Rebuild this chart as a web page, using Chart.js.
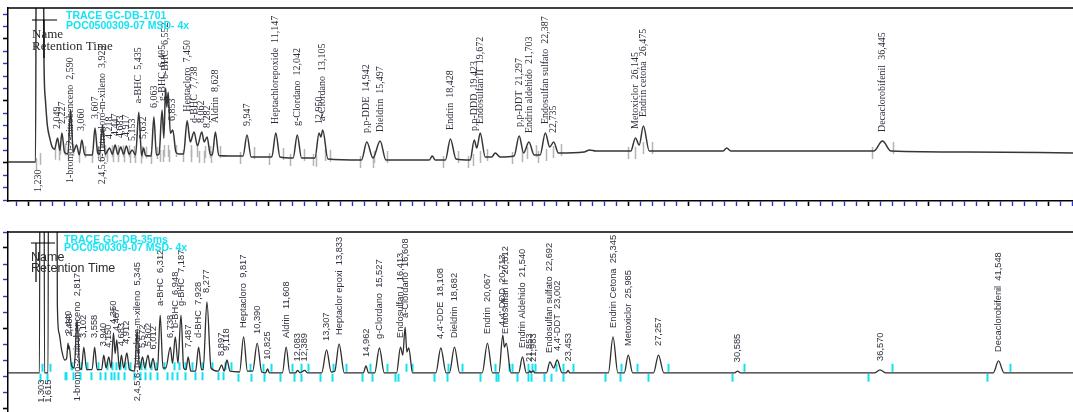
<!DOCTYPE html>
<html><head><meta charset="utf-8">
<script src="https://cdn.jsdelivr.net/npm/chart.js@4.4.1/dist/chart.umd.min.js"></script>
<style>
html,body{margin:0;padding:0;background:#fff;overflow:hidden;width:1073px;height:412px;}
#top{position:absolute;left:0;top:0;}
#bot{position:absolute;left:0;top:225px;}
</style></head>
<body>
<canvas id="top" width="1073" height="215"></canvas>
<canvas id="bot" width="1073" height="230"></canvas>
<script>
// ================= TOP CHROMATOGRAM : TRACE GC-DB-1701 =================
const topTitle = ['TRACE GC-DB-1701', 'POC0500309-07 MSD- 4x'];
// trace: retention time (min) / detector signal (arbitrary units)
const topTraceTime = [-0.02,1.13,1.17,1.42,1.48,1.54,1.62,1.72,1.82,1.92,2.049,2.14,2.227,2.34,2.48,2.590,2.70,2.84,2.95,3.060,3.18,3.50,3.607,3.72,3.80,3.923,4.03,4.218,4.33,4.447,4.56,4.683,4.80,4.917,5.03,5.153,5.30,5.435,5.55,5.632,5.72,5.95,6.063,6.17,6.28,6.405,6.48,6.552,6.60,6.660,6.75,6.853,6.98,7.10,7.30,7.450,7.58,7.738,7.88,8.062,8.16,8.282,8.42,8.50,8.628,8.77,9.20,9.78,9.947,10.12,10.98,11.147,11.32,11.87,12.042,12.22,12.78,12.95,13.03,13.105,13.32,14.72,14.942,15.20,15.497,15.74,17.55,17.67,17.80,18.22,18.428,18.66,19.25,19.423,19.53,19.672,19.88,20.15,20.30,20.50,21.08,21.297,21.48,21.703,21.92,22.17,22.387,22.57,22.735,22.93,24.00,24.23,24.50,25.95,26.145,26.30,26.475,26.72,29.80,29.95,30.12,36.08,36.445,36.80,40.0,44.4];
const topTraceSignal = [0.8,0.8,300,300,83,51,30.6,20.2,13,11,20.2,10,24.2,8.5,7.3,42.7,8.9,14.5,6.5,18.5,6.5,6.5,28.2,8,7,30.6,7,12.1,7,14.5,7,12.9,7,13.7,7,10.5,6.5,41,6,12.1,6,5.6,37,6.5,7.3,42.7,20,60.5,45,57,24,26.6,8.9,7.3,7.3,34,17,25,14,25,17,21,6.5,6.5,25,6,5.6,5.6,22.6,4.8,4.8,24.2,4.8,4.0,22.6,4.0,4.0,24.2,21,26.6,3.2,2.4,16.9,4.0,17.7,2.4,2.4,5.6,2.4,2.4,19.4,3.2,2.4,18.5,12.1,24.2,4.8,4.8,8.1,4.8,5.6,21.8,8.1,16.9,6.5,6.5,24.2,12.9,16.9,8.1,8.9,10.5,9.7,9.7,20.2,14.5,29.8,9.7,9.7,12.1,9.7,9.7,17.7,9.7,8.9,8.1];
// identified peaks
const topPeakRT = [1.230,2.049,2.227,2.590,3.060,3.607,3.923,4.218,4.447,4.683,4.917,5.153,5.435,5.632,6.063,6.405,6.552,6.853,7.450,7.738,8.062,8.282,8.628,9.947,11.147,12.042,12.950,13.105,14.942,15.497,18.428,19.423,19.672,21.297,21.703,22.387,22.735,26.145,26.475,36.445];
const topPeakName = ['','','','1-bromo-2-nitrobenceno','','','2,4,5,6-Tetracloro-m-xileno','','','','','','a-BHC','','','g-BHC','b-BHC','','Heptacloro','d-BHC','','','Aldrin','','Heptachlorepoxide','g-Clordano','','a-Clordano','p,p-DDE','Dieldrin','Endrin','p,p-DDD','Endosulfan II','p,p-DDT','Endrin aldehido','Endosulfan sulfato','','Metoxiclor','Endrin cetona','Decaclorobifenil'];
const topPeakApex = [300,20.2,24.2,42.7,18.5,28.2,30.6,12.1,14.5,12.9,13.7,10.5,41,12.1,37,42.7,60.5,26.6,34,25,25,21,25,22.6,24.2,22.6,24.2,26.6,16.9,17.7,19.4,18.5,24.2,21.8,16.9,24.2,16.9,20.2,29.8,17.7];
const topPeakBase = [0.8,9,8.5,8,6.5,6.5,7,7,7,7,7,6.5,6.5,6,5.6,7.3,7.3,7.3,7.3,7,6.5,6.5,6.5,5.6,4.8,4.0,4.0,3.5,2.4,2.4,2.4,2.4,4.0,5.6,7,6.5,8.1,9.7,9.7,9.7];
const topPeakHalfWidth = [0.08,0.12,0.12,0.12,0.12,0.12,0.12,0.1,0.1,0.1,0.1,0.1,0.14,0.1,0.14,0.1,0.1,0.14,0.18,0.14,0.12,0.12,0.2,0.3,0.3,0.3,0.25,0.3,0.3,0.3,0.32,0.25,0.3,0.32,0.3,0.3,0.3,0.32,0.35,0.42];

// ================= BOTTOM CHROMATOGRAM : TRACE GC-DB-35ms =================
const botTitle = ['TRACE GC-DB-35ms', 'POC0500309-07 MSD- 4x'];
const botTraceTime = [-0.08,1.24,1.27,1.42,1.45,1.60,1.63,1.95,1.99,2.06,2.17,2.30,2.38,2.440,2.46,2.480,2.58,2.70,2.817,2.93,3.00,3.102,3.22,3.45,3.558,3.66,3.85,3.940,4.04,4.150,4.25,4.350,4.42,4.487,4.60,4.683,4.78,4.912,5.02,5.24,5.345,5.44,5.572,5.66,5.802,5.90,6.012,6.12,6.20,6.312,6.43,6.55,6.738,6.83,6.948,7.06,7.187,7.30,7.40,7.487,7.60,7.80,7.928,8.05,8.12,8.277,8.45,8.75,8.897,9.00,9.118,9.25,9.65,9.817,9.98,10.20,10.390,10.58,10.75,10.825,10.90,11.45,11.608,11.76,12.00,12.083,12.20,12.389,12.50,13.10,13.307,13.50,13.65,13.833,14.05,14.85,14.962,15.07,15.33,15.527,15.73,16.25,16.413,16.51,16.608,16.68,16.76,16.92,17.90,18.108,18.33,18.47,18.682,18.90,19.85,20.067,20.28,20.55,20.713,20.78,20.86,21.05,21.38,21.540,21.70,21.80,21.853,21.90,21.983,22.06,22.55,22.692,22.85,23.002,23.20,23.38,23.453,23.53,25.15,25.345,25.55,25.82,25.985,26.17,27.05,27.257,27.48,30.45,30.585,30.70,36.35,36.570,36.80,41.33,41.548,41.78,44.68];
const botTraceSignal = [22,22,300,300,22,22,300,300,65,47,36.3,30,31,40.6,37,39,26.9,25,55,25,24,38.1,24,24,38.1,24,24,33,25,32,25,46.9,34,42.5,24,33,25,34.4,24,23,48.8,24,31.9,25,33,25,31,23.8,23.8,58.1,25,25,38.1,28,44.4,28,58.1,25,24,31.9,23,23,38.1,24,24,66.3,25,23,26.9,23,30,23,22.5,44.4,23,23,40.6,22.5,22,24.5,22,22,38.1,22,22,23.5,22,23.5,22,22,36.3,22.5,23,40,22,22,26.3,22,22,37.5,22,22,38.1,33,50.6,35,37.5,22,22,37.5,22,22,38.1,22,22,40.6,22,22,45.6,38,40.6,22,22,31.9,22,22,23.2,22,23.2,22,22,28.8,25,30,22,22,23.5,22,22,44.4,22,22,33.1,22,22,33.1,22,22,23,22,22,23.8,22,22,29.4,22,22];
const botPeakRT = [1.303,1.615,2.440,2.480,2.817,3.102,3.558,3.940,4.150,4.350,4.487,4.683,4.912,5.345,5.572,5.802,6.012,6.312,6.738,6.948,7.187,7.487,7.928,8.277,8.897,9.118,9.817,10.390,10.825,11.608,12.083,12.389,13.307,13.833,14.962,15.527,16.413,16.608,18.108,18.682,20.067,20.713,20.812,21.540,21.853,21.983,22.692,23.002,23.453,25.345,25.985,27.257,30.585,36.570,41.548];
const botPeakName = ['','','','','1-bromo-2-nitrobenceno','','','','','','','','','2,4,5,6-Tetracloro-m-xileno','','','','a-BHC','','b-BHC','g-BHC','','d-BHC','','','','Heptacloro','','','Aldrin','','','','Heptaclor epoxi','','g-Clordano','Endosulfan I','a-Clordano',"4,4'-DDE",'Dieldrin','Endrin',"4,4'-DDD",'Endosulfan II','Endrin Aldehido','','','Endosulfan sulfato',"4,4'-DDT",'','Endrin Cetona','Metoxiclor','','','','Decaclorobifenil'];
const botPeakApex = [300,300,40.6,39,55,38.1,38.1,33,32,46.9,42.5,33,34.4,48.8,31.9,33,31,58.1,38.1,44.4,58.1,31.9,38.1,66.3,26.9,30,44.4,40.6,24.5,38.1,23.5,23.5,36.3,40,26.3,37.5,38.1,50.6,37.5,38.1,40.6,45.6,40.6,31.9,23.2,23.2,28.8,30,23.5,44.4,33.1,33.1,23,23.8,29.4];
const botPeakBase = [22,22,23,23,23,23,23,23,23,23,23,23,23,23,23,23,23,23,23,23,23,23,23,23,23,23,22,22,22,22,22,22,22,22,22,22,22,22,22,22,22,22,22,22,22,22,22,22,22,22,22,22,22,22,22];
const botPeakHalfWidth = [0.06,0.08,0.12,0.12,0.15,0.15,0.15,0.14,0.14,0.12,0.12,0.14,0.14,0.15,0.12,0.12,0.12,0.15,0.15,0.15,0.15,0.15,0.16,0.2,0.16,0.16,0.25,0.25,0.15,0.25,0.15,0.15,0.28,0.28,0.15,0.3,0.25,0.3,0.3,0.3,0.3,0.28,0.3,0.25,0.1,0.1,0.25,0.25,0.2,0.35,0.35,0.42,0.25,0.5,0.5];

// ================= helpers =================
const fmtRT = t => t.toFixed(3).replace('.', ',');
const zip = (xs, ys) => xs.map((x, i) => ({x, y: ys[i]}));
function tickList(start, stop, step){ const out=[]; for(let k=0; start+k*step<=stop+1e-9; k++) out.push(+(start+k*step).toFixed(4)); return out; }
function isMajor(v, origin, step){ const r=(v-origin)/step; return Math.abs(r-Math.round(r))<1e-6; }

function axis(min, max, ticks, majorOrigin, majorStep){
  return {
    type:'linear', min, max, bounds:'data',
    afterBuildTicks: s => { s.ticks = ticks.map(v => ({value:v})); },
    ticks:{display:false},
    grid:{display:true, drawOnChartArea:false, drawTicks:true, tickLength:5,
      color: c => (c.tick && isMajor(c.tick.value, majorOrigin, majorStep)) ? '#000000' : '#2a35c8',
      tickWidth: c => (c.tick && isMajor(c.tick.value, majorOrigin, majorStep)) ? 1.6 : 1.4},
    border:{display:true, color:'#000', width:1.5}
  };
}

function peakPlugin(cfg){
  return {
    id:'peaks',
    beforeDatasetsDraw(chart){
      const {ctx, scales:{x, y}} = chart;
      ctx.save();
      ctx.strokeStyle = cfg.markerColor; ctx.lineWidth = cfg.markerWidth;
      cfg.rt.forEach((t, i) => {
        const bp = y.getPixelForValue(cfg.base[i]);
        const xs = Math.round(x.getPixelForValue(t - cfg.hw[i])) + 0.5;
        const xe = Math.round(x.getPixelForValue(t + cfg.hw[i])) + 0.5;
        ctx.beginPath();
        ctx.moveTo(xs, bp + cfg.startSpan[0]); ctx.lineTo(xs, bp + cfg.startSpan[1]);
        ctx.moveTo(xe, bp + cfg.endSpan[0]); ctx.lineTo(xe, bp + cfg.endSpan[1]);
        ctx.stroke();
      });
      ctx.restore();
    },
    afterDatasetsDraw(chart){
      const {ctx, chartArea:a, scales:{x, y}} = chart;
      ctx.save();
      ctx.font = cfg.font; ctx.fillStyle = cfg.textColor;
      ctx.textAlign = 'left'; ctx.textBaseline = 'middle';
      cfg.rt.forEach((t, i) => {
        const text = (cfg.names[i] ? cfg.names[i] + '  ' : '') + fmtRT(t);
        const px = x.getPixelForValue(t);
        const apexPx = y.getPixelForValue(cfg.apex[i]);
        const basePx = y.getPixelForValue(cfg.base[i]);
        const len = ctx.measureText(text).width;
        let bottom = apexPx - cfg.gap;
        if (apexPx < a.top || bottom - len < a.top + 2) bottom = basePx + cfg.below;
        ctx.save(); ctx.translate(px, bottom); ctx.rotate(-Math.PI/2);
        ctx.fillText(text, 0, 0); ctx.restore();
      });
      ctx.restore();
    }
  };
}

function decoPlugin(cfg){
  return {
    id:'deco',
    afterDraw(chart){
      const {ctx, chartArea:a} = chart;
      ctx.save();
      ctx.strokeStyle = '#000'; ctx.lineWidth = 1.5;
      ctx.beginPath(); ctx.moveTo(a.left, a.top); ctx.lineTo(chart.width, a.top); ctx.stroke();
      // legend marker lines
      ctx.lineWidth = 1.2;
      ctx.beginPath();
      ctx.moveTo(cfg.legLine[0], cfg.legLine[2]); ctx.lineTo(cfg.legLine[1], cfg.legLine[2]);
      ctx.moveTo(cfg.legVert[0], cfg.legVert[1]); ctx.lineTo(cfg.legVert[0], cfg.legVert[2]);
      ctx.stroke();
      // cyan header
      ctx.fillStyle = '#14e4f4'; ctx.font = 'bold 10.5px "Liberation Sans", Arial, sans-serif';
      ctx.textBaseline = 'alphabetic'; ctx.textAlign = 'left';
      ctx.fillText(cfg.title[0], cfg.titleX, cfg.titleY[0]);
      ctx.fillText(cfg.title[1], cfg.titleX, cfg.titleY[1]);
      // legend text
      ctx.fillStyle = '#2a2a2a'; ctx.font = cfg.legFont;
      ctx.fillText('Name', cfg.legX, cfg.legY[0]);
      ctx.fillText('Retention Time', cfg.legX, cfg.legY[1]);
      ctx.restore();
    }
  };
}

function makeChart(id, c){
  return new Chart(document.getElementById(id), {
    type:'line',
    data:{datasets:[{data: zip(c.traceT, c.traceV), borderColor: c.lineColor, borderWidth: c.lineWidth,
      pointRadius:0, cubicInterpolationMode:'monotone', fill:false}]},
    options:{
      responsive:false, animation:false, events:[],
      layout:{padding:{top:c.padTop, left:3, right:0, bottom:c.padBottom}},
      plugins:{legend:{display:false}, tooltip:{enabled:false}},
      scales:{
        x: axis(c.xMin, c.xMax, c.xTicks, c.xMajorOrigin, c.xMajorStep),
        y: axis(c.yMin, c.yMax, c.yTicks, 0, 50)
      }
    },
    plugins:[peakPlugin(c.peaks), decoPlugin(c.deco)]
  });
}

makeChart('top', {
  traceT: topTraceTime, traceV: topTraceSignal, lineColor:'#363636', lineWidth:1.5,
  padTop: 8, padBottom: 9,
  xMin: -0.02, xMax: 44.39, xTicks: tickList(0.35, 44.39, 0.5), xMajorOrigin: 0.85, xMajorStep: 2.5,
  yMin: -30.65, yMax: 125, yTicks: tickList(-30, 120, 10),
  peaks:{rt: topPeakRT, names: topPeakName, apex: topPeakApex, base: topPeakBase, hw: topPeakHalfWidth,
    font:'10px "Liberation Serif", "Times New Roman", serif', textColor:'#2c2c3a', gap:9, below:30,
    markerColor:'#b4b4b4', markerWidth:1.5, startSpan:[-4, 8], endSpan:[-9, 3]},
  deco:{title: topTitle, titleX: 66, titleY:[18.5, 28.5], legLine:[32, 57, 20], legVert:[44, 20, 58],
    legFont:'13px "Liberation Serif", "Times New Roman", serif', legX: 32, legY:[38, 49.5]}
});

makeChart('bot', {
  traceT: botTraceTime, traceV: botTraceSignal, lineColor:'#2e2e2e', lineWidth:1.3,
  padTop: 7, padBottom: 10,
  xMin: -0.084, xMax: 44.68, xTicks: tickList(0.35, 44.68, 0.5), xMajorOrigin: 0.85, xMajorStep: 2.5,
  yMin: -20, yMax: 110, yTicks: tickList(-20, 110, 10),
  peaks:{rt: botPeakRT, names: botPeakName, apex: botPeakApex, base: botPeakBase, hw: botPeakHalfWidth,
    font:'9.3px "Liberation Sans", Arial, sans-serif', textColor:'#30303e', gap:9, below:30,
    markerColor:'#12e2ee', markerWidth:2, startSpan:[1, 9], endSpan:[-9, -1]},
  deco:{title: botTitle, titleX: 64, titleY:[17.5, 25.5], legLine:[31, 55, 18], legVert:[36, 18, 57],
    legFont:'12.5px "Liberation Sans", Arial, sans-serif', legX: 31, legY:[36, 46.5]}
});
</script>
</body></html>
